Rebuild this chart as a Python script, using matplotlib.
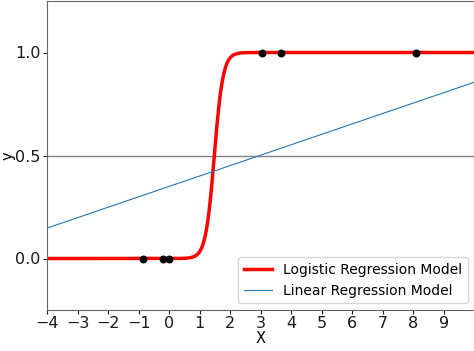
import numpy as np
import matplotlib
matplotlib.use("Agg")
import matplotlib.pyplot as plt

# observed samples
x_pts = [-0.87, -0.21, 0.0, 3.05, 3.66, 8.09]
y_pts = [0, 0, 0, 1, 1, 1]

# fitted model coefficients
logit_slope = 7.0
logit_mid = 1.48
lin_slope = 0.0506
lin_icpt = 0.350

xticks = list(range(-4, 10))
yticks = [0.0, 0.5, 1.0]

fig = plt.figure(figsize=(4.74, 3.51), dpi=100)
ax = fig.add_axes([47 / 474, 1 - 310 / 351, 427.5 / 474, 309 / 351])

xs = np.linspace(-4, 10, 600)
ax.axhline(0.5, color='gray', lw=1.0)
ax.plot(xs, 1 / (1 + np.exp(-logit_slope * (xs - logit_mid))), color='red', lw=2.5,
        label='Logistic Regression Model')
ax.plot(xs, lin_icpt + lin_slope * xs, color='tab:blue', lw=0.8,
        label='Linear Regression Model')
ax.scatter(x_pts, y_pts, color='black', s=22, zorder=5)

ax.set_xlim(-4, 10)
ax.set_ylim(-0.25, 1.25)
ax.set_xticks(xticks)
ax.set_yticks(yticks)
ax.tick_params(labelsize=11.5, colors='0.1', length=3)
ax.tick_params(axis='x', pad=1)
ax.tick_params(axis='y', pad=1.5)
for s in ax.spines.values():
    s.set_color('0.4')
ax.set_xlabel('X', fontsize=10.5, labelpad=0)
ax.set_ylabel('y', fontsize=10.5, labelpad=0)
ax.legend(loc='lower right', fontsize=10)

plt.savefig('out.png', dpi=100)
